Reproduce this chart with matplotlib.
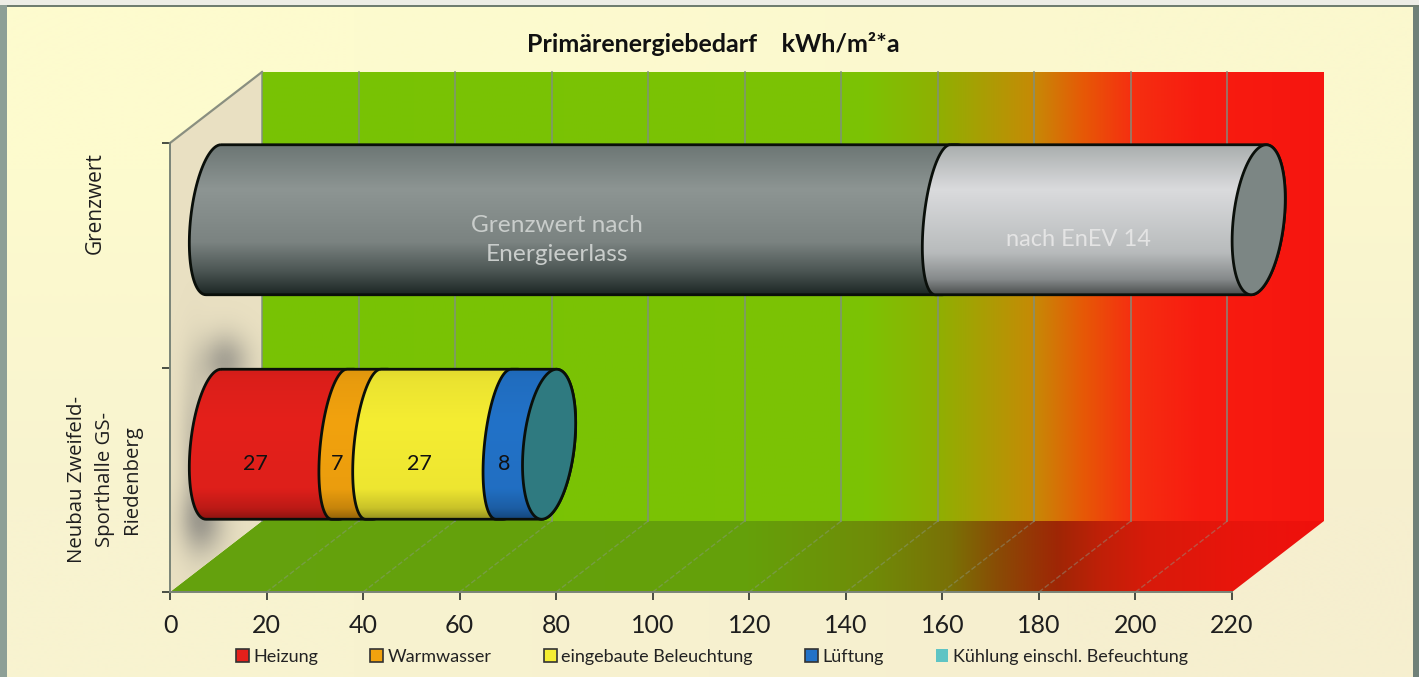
import numpy as np
import matplotlib
matplotlib.use("Agg")
import matplotlib.pyplot as plt
from matplotlib.path import Path
from matplotlib.patches import PathPatch, Polygon, Patch, Rectangle
from matplotlib.colors import to_rgb

# ---------- data ----------
categories = ["Neubau Zweifeld-\nSporthalle GS-\nRiedenberg", "Grenzwert"]
x_ticks = [0, 20, 40, 60, 80, 100, 120, 140, 160, 180, 200, 220]
heizung = [27, 0]
warmwasser = [7, 0]
beleuchtung = [27, 0]
lueftung = [8, 0]
kuehlung = [0, 0]
grenzwert_erlass = [0, 152]
grenzwert_enev = [0, 64]
title = "Primärenergiebedarf    kWh/m²*a"
legend_names = ["Heizung", "Warmwasser", "eingebaute Beleuchtung", "Lüftung",
                "Kühlung einschl. Befeuchtung"]
legend_colors = ["#E5201B", "#F2A20E", "#F5ED32", "#2272C8", "#5FC4C4"]

# ---------- figure ----------
W, H = 1419, 677
fig = plt.figure(figsize=(W / 100, H / 100), dpi=100)
FONT = "Lato"
LABEL_FONT = "Open Sans"

bg = fig.add_axes([0, 0, 1, 1], zorder=-5)
bg_img = np.array([[to_rgb("#FDFBCE"), to_rgb("#FBF8CE")],
                   [to_rgb("#F8F3D0"), to_rgb("#F6EFCF")]])
bg.imshow(bg_img, aspect="auto", interpolation="bilinear", extent=(0, 1, 0, 1))
bg.axis("off")
fig.add_artist(Rectangle((0, 0), 7 / W, 1, transform=fig.transFigure, color="#8D9F96", lw=0))
fig.add_artist(Rectangle((1 - 6 / W, 0), 6 / W, 1, transform=fig.transFigure, color="#6F8078", lw=0))
fig.add_artist(Rectangle((0, 1 - 5 / H), 1, 5 / H, transform=fig.transFigure, color="#EDEDE6", lw=0))
fig.add_artist(Rectangle((7 / W, 1 - 7 / H), 1, 2 / H, transform=fig.transFigure, color="#6F7D70", lw=0))

L, R, B, T = 170, 1232, 592, 143
ax = fig.add_axes([L / W, 1 - B / H, (R - L) / W, (B - T) / H])
ax.set_xlim(0, 220)
ax.set_ylim(0, 2)
ax.set_autoscale_on(False)
ax.patch.set_visible(False)
XU, YU = (R - L) / 220, (B - T) / 2
DX, DY = 92 / XU, 71 / YU
y_pos = np.array([0.5, 1.5])
BAR_B = 75 / YU
BAR_A = 25.5 / XU
BAR_S = 7.5 / XU


def clip(im, verts):
    im.set_clip_path(Path(verts + [verts[0]], closed=True), ax.transData)
    im.set_clip_box(fig.bbox)


def ramp(v, vs, cs):
    arr = np.array([to_rgb(c) for c in cs])
    return np.stack([np.interp(v, vs, arr[:, i]) for i in range(3)], axis=-1)


# back wall gradient
stops_v = [0, 125, 140, 160, 170, 180, 194, 240]
stops_c = ["#78C204", "#7CC304", "#8FB002", "#C68A06", "#E65A06", "#F53010", "#F81C10", "#F5100F"]
xs = np.linspace(0, 240, 480)
wall = ramp(xs, stops_v, stops_c)[None, :, :]
wall_verts = [(DX, DY), (220 + DX, DY), (220 + DX, 2 + DY), (DX, 2 + DY)]
im = ax.imshow(wall, extent=(DX, 240 + DX, DY, 2 + DY), aspect="auto", interpolation="bilinear", zorder=1)
clip(im, wall_verts)

# floor gradient
floor_v = [0, 120, 145, 162, 172, 184, 193, 203, 220, 239]
floor_c = ["#64A20E", "#65A00A", "#6F8C08", "#7A7006", "#8A4A05", "#9F2605", "#C02008", "#D81A0A", "#E8150C", "#F0100C"]
floor = ramp(np.linspace(0, 240, 480), floor_v, floor_c)[None, :, :]
floor_verts = [(0, 0), (220, 0), (220 + DX, DY), (DX, DY)]
im = ax.imshow(floor, extent=(0, 240, 0, DY), aspect="auto", interpolation="bilinear", zorder=1)
clip(im, floor_verts)

# left wall
left_verts = [(0, 0), (DX, DY), (DX, 2 + DY), (0, 2)]
ax.add_patch(Polygon(left_verts, closed=True, fc="#E9E0C2", ec="none", zorder=1, clip_on=False))
gx, gy = np.meshgrid(np.linspace(0, DX, 120), np.linspace(0, 2 + DY, 400))
blob_a = 0.55 * np.exp(-(((gx - 55 / XU) / (24 / XU)) ** 2 + ((gy - (592 - 362) / YU) / (28 / YU)) ** 2))
blob_b = 0.55 * np.exp(-(((gx - 33 / XU) / (22 / XU)) ** 2 + ((gy - (592 - 522) / YU) / (32 / YU)) ** 2))
blob_c = 0.30 * np.exp(-(((gx - 24 / XU) / (14 / XU)) ** 2 + ((gy - (592 - 445) / YU) / (80 / YU)) ** 2))
shadow = np.zeros(gx.shape + (4,))
shadow[..., :3] = to_rgb("#707070")
shadow[..., 3] = np.clip(blob_a + blob_b + blob_c, 0, 0.75)
im = ax.imshow(shadow, extent=(0, DX, 0, 2 + DY), origin="lower", aspect="auto", zorder=1.5)
clip(im, left_verts)

# grid lines
GRID = "#7F8F80"
for t in x_ticks[1:-1] + [0]:
    ax.plot([t + DX, t + DX], [DY, 2 + DY], color=GRID, lw=1.3, alpha=0.8, zorder=2, clip_on=False)
for t in x_ticks[1:-1]:
    ax.plot([t, t + DX], [0, DY], color="#8C9A88", lw=1.0, alpha=0.45, ls="--", zorder=2, clip_on=False)
ax.plot([0, DX], [2, 2 + DY], color="#8A8F80", lw=1.6, zorder=2, clip_on=False)

for s in ("top", "right"):
    ax.spines[s].set_visible(False)
for s in ("left", "bottom"):
    ax.spines[s].set_color("#7A8478")
    ax.spines[s].set_linewidth(1.4)
    ax.spines[s].set_zorder(2.5)

# cylinders
SHADE_COLOR = ([0, 0.08, 0.35, 0.8, 0.93, 1.0], [0.92, 0.96, 1.0, 0.97, 0.82, 0.62])
DARK = ([0, 0.3, 0.65, 0.85, 1.0], ["#6C7674", "#8D9593", "#7B8381", "#4A5452", "#1C2624"])
LIGHT = ([0, 0.3, 0.72, 0.9, 1.0], ["#A9ADAD", "#DADBDD", "#B8BBBC", "#85898A", "#4A4E4E"])


def half(v, yc, side, shift=0.0, a=BAR_A):
    t = np.linspace(np.pi / 2, 3 * np.pi / 2, 50) if side == "left" else np.linspace(-np.pi / 2, np.pi / 2, 50)
    return np.column_stack([v + DX / 2 + shift + a * np.cos(t) + BAR_S * np.sin(t),
                            yc + DY / 2 + BAR_B * np.sin(t)])


def cyl_segment(v0, v1, yc, grad, z, first):
    if first:
        left = half(v0, yc, "left", -2.5 / XU, 23 / XU)
    else:
        left = half(v0, yc, "left", -7 / XU, 19 / XU)
    verts = np.vstack([left, half(v1, yc, "right")])
    g = np.linspace(0, 1, 128)
    if isinstance(grad, tuple):
        cols = ramp(g, grad[0], grad[1])
    else:
        base = np.array(to_rgb(grad))
        fac = np.interp(g, *SHADE_COLOR)
        cols = np.clip(base[None, :] * fac[:, None], 0, 1)
    img = cols[:, None, :]
    im = ax.imshow(img, aspect="auto", interpolation="bilinear", zorder=z,
                   extent=(verts[:, 0].min(), verts[:, 0].max(), yc + DY / 2 - BAR_B, yc + DY / 2 + BAR_B))
    clip(im, [tuple(p) for p in verts])
    ax.add_patch(PathPatch(Path(np.vstack([verts, verts[:1]]), closed=False), fc="none", ec="#0A0F0A",
                           lw=2.0, zorder=z + 0.1, clip_on=False))


def cyl_cap(v, yc, color, z):
    verts = np.vstack([half(v, yc, "left"), half(v, yc, "right")])
    ax.add_patch(Polygon(verts, closed=True, fc=color, ec="#0A0F0A", lw=2.0, zorder=z, clip_on=False))


def stack(i, series, z):
    pos = 0
    for k, (vals, grad) in enumerate(series):
        cyl_segment(pos, pos + vals[i], y_pos[i], grad, z, k == 0)
        z += 1
        pos += vals[i]
    return pos, z


end, z = stack(1, [(grenzwert_erlass, DARK), (grenzwert_enev, LIGHT)], 5)
cyl_cap(end, y_pos[1], "#7C8684", z)
end, z = stack(0, [(heizung, legend_colors[0]), (warmwasser, legend_colors[1]),
                   (beleuchtung, legend_colors[2]), (lueftung, legend_colors[3])], 10)
cyl_cap(end, y_pos[0], "#2F7A80", z)

# value labels
LBL_D = 0.217
pos = 0
for vals in (heizung, warmwasser, beleuchtung, lueftung):
    ax.text(pos + vals[0] / 2 + LBL_D * DX, y_pos[0] + LBL_D * DY, str(vals[0]), ha="center", va="center",
            fontsize=15.5, color="#111111", family=FONT, zorder=30)
    pos += vals[0]
ax.text(grenzwert_erlass[1] / 2 + LBL_D * DX, y_pos[1] + LBL_D * DY, "Grenzwert nach\nEnergieerlass",
        ha="center", va="center", fontsize=17.6, color="#C9CDCB", family=FONT, zorder=30, linespacing=1.5)
ax.text(grenzwert_erlass[1] + grenzwert_enev[1] / 2 + LBL_D * DX, y_pos[1] + LBL_D * DY, "nach EnEV 14",
        ha="center", va="center", fontsize=17, color="#E4E4E4", family=FONT, zorder=30)

# axes ticks
ax.set_xticks(x_ticks)
ax.set_xticklabels([str(t) for t in x_ticks], fontsize=18, family=FONT, color="#1E1E1E")
ax.tick_params(axis="x", length=6, width=1.3, color="#3A4038", pad=10)
ax.set_yticks([0, 1, 2])
ax.set_yticklabels([])
ax.tick_params(axis="y", length=6, width=1.3, color="#3A4038")

# category labels
ax.annotate(categories[0], xy=(0, y_pos[0]), xycoords="data", xytext=(-65 / 100 * 72, 0),
            textcoords="offset points", rotation=90, ha="center", va="center", fontsize=14.7,
            family=LABEL_FONT, color="#1E1E1E", multialignment="center", linespacing=1.5)
ax.annotate(categories[1], xy=(0, y_pos[1]), xycoords="data", xytext=(-75 / 100 * 72, 52 / 100 * 72),
            textcoords="offset points", rotation=90, ha="center", va="center", fontsize=15,
            family=LABEL_FONT, color="#1E1E1E")

fig.text(713 / W, 1 - 44 / H, title, ha="center", va="center", fontsize=18, fontweight="bold",
         family=FONT, color="#111111")

# legend
handles = [Patch(fc=c, ec="#333333" if i < 4 else "none", lw=1.2) for i, c in enumerate(legend_colors)]
fig.legend(handles, legend_names, ncol=5, loc="center", bbox_to_anchor=(712 / W, 1 - 657 / H),
           frameon=False, prop={"family": FONT, "size": 13}, handlelength=0.7, handleheight=0.7,
           handletextpad=0.25, columnspacing=2.9, labelcolor="#222222")

fig.savefig("out.png", dpi=100)
